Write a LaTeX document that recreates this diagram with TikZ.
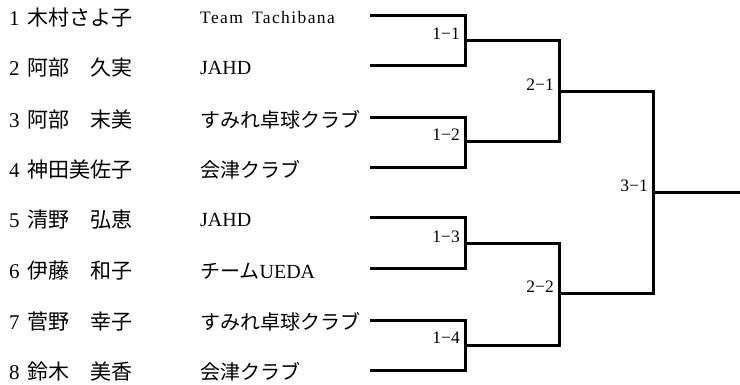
\documentclass[tikz,border=0pt]{standalone}
\usepackage{fontspec}
\setmainfont{Liberation Serif}
\newfontfamily\cjk{Noto Sans CJK JP}

\begin{document}
\begin{tikzpicture}[x=1pt,y=-1pt]
    % Define styles
    \tikzstyle{player}=[anchor=west,inner sep=0pt,font=\fontsize{21}{25}\selectfont]
    \tikzstyle{club}=[anchor=west,inner sep=0pt,font=\fontsize{20}{24}\selectfont]
    \tikzstyle{bracket}=[line width=3pt]
    \tikzstyle{matchlbl}=[anchor=south east,inner xsep=5pt,inner ysep=1.5pt,font=\fontsize{17.5}{20}\selectfont]

    \useasboundingbox (0,0) rectangle (740,385);

    % Draw the players
    \node[player] (p1) at (9,18) {1\hspace{8pt}{\cjk 木村さよ子}};
    \node[player] (p2) at (9,68) {2\hspace{8pt}{\cjk 阿部　久実}};
    \node[player] (p3) at (9,120) {3\hspace{8pt}{\cjk 阿部　末美}};
    \node[player] (p4) at (9,170) {4\hspace{8pt}{\cjk 神田美佐子}};
    \node[player] (p5) at (9,220) {5\hspace{8pt}{\cjk 清野　弘恵}};
    \node[player] (p6) at (9,271) {6\hspace{8pt}{\cjk 伊藤　和子}};
    \node[player] (p7) at (9,322) {7\hspace{8pt}{\cjk 菅野　幸子}};
    \node[player] (p8) at (9,372) {8\hspace{8pt}{\cjk 鈴木　美香}};

    % Draw the clubs
    \node[club,font=\fontsize{17.5}{20}\selectfont] (c1) at (200,18) {\addfontfeatures{LetterSpace=8}Team\hspace{9pt}Tachibana};
    \node[club] (c2) at (200,68) {JAHD};
    \node[club] (c3) at (200,120) {\cjk すみれ卓球クラブ};
    \node[club] (c4) at (200,170) {\cjk 会津クラブ};
    \node[club] (c5) at (200,220) {JAHD};
    \node[club] (c6) at (200,271) {{\cjk チーム}UEDA};
    \node[club] (c7) at (200,322) {\cjk すみれ卓球クラブ};
    \node[club] (c8) at (200,372) {\cjk 会津クラブ};

    % Draw the entry points
    \coordinate (e1) at (370,16);
    \coordinate (e2) at (370,66);
    \coordinate (e3) at (370,118);
    \coordinate (e4) at (370,168);
    \coordinate (e5) at (370,218);
    \coordinate (e6) at (370,269);
    \coordinate (e7) at (370,320);
    \coordinate (e8) at (370,370);

    % Draw the match points
    \coordinate (m11) at (465,41);
    \coordinate (m12) at (465,142);
    \coordinate (m13) at (465,244);
    \coordinate (m14) at (465,345);
    \coordinate (m21) at (559,92);
    \coordinate (m22) at (559,294);
    \coordinate (m31) at (653,193);
    \coordinate (win) at (740,193);

    % Draw the brackets
    \draw[bracket] (e1) -| (m11) |- (e2);
    \draw[bracket] (e3) -| (m12) |- (e4);
    \draw[bracket] (e5) -| (m13) |- (e6);
    \draw[bracket] (e7) -| (m14) |- (e8);
    \draw[bracket] (m11) -| (m21) |- (m12);
    \draw[bracket] (m13) -| (m22) |- (m14);
    \draw[bracket] (m21) -| (m31) |- (m22);
    \draw[bracket] (m31) -- (win);

    % Add match labels
    \node[matchlbl] (l11) at (m11) {1−1};
    \node[matchlbl] (l12) at (m12) {1−2};
    \node[matchlbl] (l13) at (m13) {1−3};
    \node[matchlbl] (l14) at (m14) {1−4};
    \node[matchlbl] (l21) at (m21) {2−1};
    \node[matchlbl] (l22) at (m22) {2−2};
    \node[matchlbl] (l31) at (m31) {3−1};
\end{tikzpicture}
\end{document}
